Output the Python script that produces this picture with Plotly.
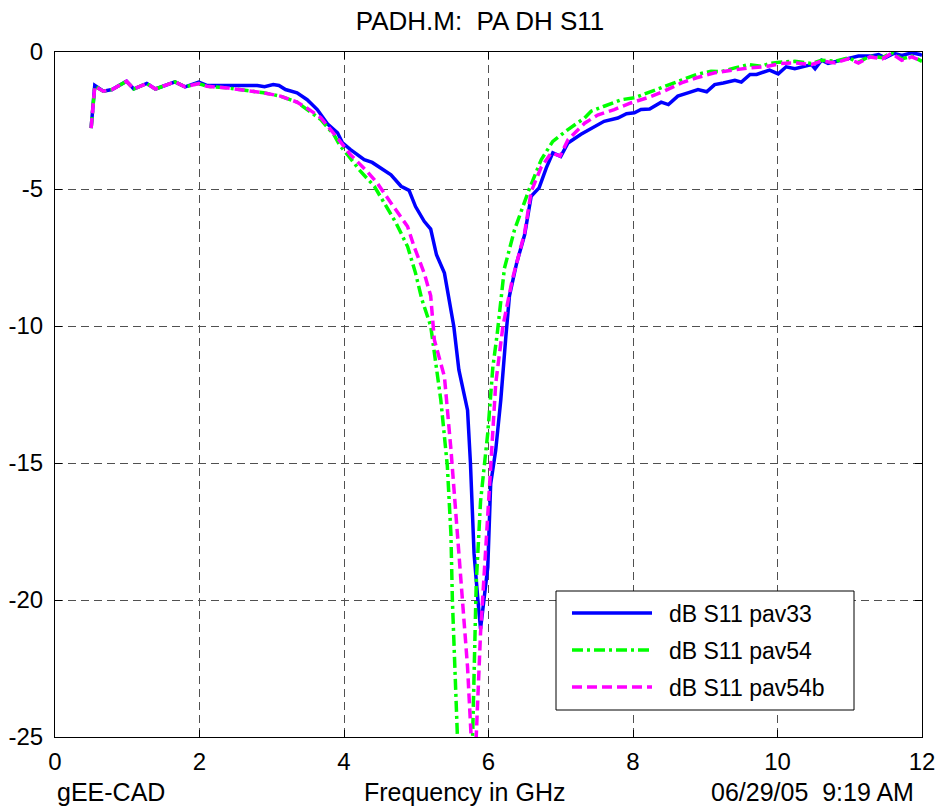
import plotly.graph_objects as go

# ---------------- data ----------------
freq_pav33 = [0.5, 0.55, 0.67, 0.79, 0.99, 1.09, 1.27, 1.39, 1.66, 1.80, 1.99, 2.1, 2.5, 2.8, 2.9,
              3.02, 3.1, 3.19, 3.35, 3.49, 3.63, 3.77, 3.91, 3.98, 4.09, 4.28, 4.39, 4.51, 4.65,
              4.79, 4.90, 4.99, 5.11, 5.20, 5.28, 5.39, 5.45, 5.52, 5.59, 5.71, 5.75, 5.80, 5.85,
              5.89, 5.99, 6.03, 6.10, 6.17, 6.24, 6.29, 6.39, 6.50, 6.59, 6.70, 6.80, 6.89, 7.00,
              7.10, 7.28, 7.42, 7.60, 7.79, 7.91, 8.02, 8.11, 8.23, 8.39, 8.49, 8.62, 8.76, 8.90,
              9.02, 9.13, 9.25, 9.41, 9.50, 9.62, 9.71, 9.89, 10.01, 10.12, 10.24, 10.35, 10.47,
              10.52, 10.61, 10.70, 10.82, 10.98, 11.12, 11.28, 11.40, 11.49, 11.61, 11.72, 11.86,
              11.97, 12.0]
s11_pav33 = [-2.78, -1.22, -1.43, -1.37, -1.07, -1.35, -1.15, -1.35, -1.09, -1.27, -1.10, -1.22,
             -1.22, -1.22, -1.27, -1.19, -1.22, -1.37, -1.49, -1.74, -2.10, -2.62, -2.95, -3.32,
             -3.56, -3.93, -4.03, -4.23, -4.48, -4.90, -5.05, -5.64, -6.18, -6.46, -7.40, -8.07,
             -8.98, -10.02, -11.6, -13.07, -15.0, -18.3, -19.9, -21.05, -18.8, -15.77, -14.53,
             -12.7, -10.4, -8.9, -7.7, -6.67, -5.27, -4.96, -4.23, -3.68, -3.81, -3.32, -3.00,
             -2.81, -2.53, -2.41, -2.25, -2.22, -2.10, -2.08, -1.83, -1.92, -1.61, -1.49, -1.37,
             -1.45, -1.19, -1.13, -1.03, -1.10, -0.82, -0.82, -0.66, -0.80, -0.54, -0.61, -0.54,
             -0.46, -0.61, -0.30, -0.42, -0.34, -0.25, -0.15, -0.15, -0.09, -0.21, -0.05, -0.13,
             -0.03, -0.09, -0.12]

freq_pav54 = [0.5, 0.55, 0.67, 0.79, 0.99, 1.09, 1.27, 1.39, 1.66, 1.80, 1.99, 2.1, 2.38, 2.66,
              2.89, 3.12, 3.35, 3.49, 3.68, 3.86, 3.95, 4.05, 4.23, 4.42, 4.58, 4.72, 4.88, 4.99,
              5.08, 5.20, 5.34, 5.43, 5.48, 5.50, 5.57, 5.68, 5.78, 5.83, 5.89, 5.99, 6.06, 6.12,
              6.22, 6.36, 6.56, 6.73, 6.89, 7.10, 7.33, 7.42, 7.60, 7.84, 8.02, 8.20, 8.43, 8.67,
              8.88, 9.08, 9.21, 9.41, 9.60, 9.78, 9.89, 10.03, 10.24, 10.47, 10.61, 10.80, 10.98,
              11.12, 11.28, 11.45, 11.58, 11.72, 11.86, 12.0]
s11_pav54 = [-2.78, -1.25, -1.43, -1.37, -1.07, -1.35, -1.15, -1.35, -1.09, -1.27, -1.15, -1.25,
             -1.31, -1.40, -1.49, -1.61, -1.83, -2.10, -2.47, -3.02, -3.44, -3.75, -4.36, -4.90,
             -5.64, -6.24, -7.10, -8.07, -9.05, -10.0, -12.7, -15.1, -17.6, -20.0, -25.0, -29.0,
             -25.0, -19.4, -16.4, -13.9, -11.5, -10.3, -7.9, -6.49, -5.03, -3.93, -3.26, -2.83,
             -2.41, -2.16, -1.98, -1.74, -1.67, -1.49, -1.25, -1.01, -0.82, -0.70, -0.72, -0.58,
             -0.46, -0.52, -0.42, -0.37, -0.34, -0.42, -0.30, -0.34, -0.21, -0.38, -0.15, -0.21,
             -0.02, -0.25, -0.15, -0.34]

freq_pav54b = [0.5, 0.55, 0.67, 0.79, 0.99, 1.09, 1.27, 1.39, 1.66, 1.80, 1.99, 2.1, 2.38, 2.66,
               2.89, 3.12, 3.35, 3.49, 3.68, 3.91, 4.09, 4.32, 4.46, 4.65, 4.88, 4.97, 5.11, 5.20,
               5.25, 5.39, 5.48, 5.57, 5.64, 5.71, 5.76, 5.80, 5.83, 5.89, 5.96, 6.03, 6.10, 6.20,
               6.33, 6.50, 6.59, 6.73, 6.87, 6.99, 7.10, 7.33, 7.51, 7.74, 7.97, 8.20, 8.43, 8.67,
               8.88, 9.13, 9.36, 9.60, 9.82, 10.05, 10.24, 10.47, 10.61, 10.80, 10.98, 11.12,
               11.28, 11.45, 11.58, 11.72, 11.86, 12.0]
s11_pav54b = [-2.78, -1.25, -1.43, -1.37, -1.07, -1.35, -1.15, -1.35, -1.09, -1.27, -1.15, -1.25,
              -1.31, -1.40, -1.49, -1.61, -1.83, -2.05, -2.40, -3.14, -3.75, -4.36, -4.78, -5.51,
              -6.37, -7.10, -8.07, -8.90, -10.5, -11.85, -14.5, -17.6, -20.0, -22.45, -25.0,
              -27.0, -25.0, -21.2, -18.2, -15.1, -12.1, -10.0, -8.3, -6.6, -5.1, -4.2, -3.68,
              -3.80, -3.20, -2.60, -2.30, -2.10, -1.86, -1.67, -1.43, -1.13, -0.94, -0.76, -0.66,
              -0.58, -0.54, -0.42, -0.40, -0.46, -0.33, -0.40, -0.25, -0.40, -0.18, -0.25, -0.05,
              -0.30, -0.18, -0.34]

series_names = ["dB S11 pav33", "dB S11 pav54", "dB S11 pav54b"]
x_ticks = [0, 2, 4, 6, 8, 10, 12]
x_tick_labels = ["0", "2", "4", "6", "8", "10", "12"]
y_ticks = [0, -5, -10, -15, -20, -25]
y_tick_labels = ["0", "-5", "-10", "-15", "-20", "-25"]

title_text = "PADH.M:  PA DH S11"
left_note = "gEE-CAD"
x_label = "Frequency in GHz"
right_note = "06/29/05  9:19 AM"

# ---------------- styling ----------------
W, H = 939, 811
ML, MR, MT, MB = 55, 17, 52, 74
PW, PH = W - ML - MR, H - MT - MB
FONT = "Arial, Liberation Sans, Helvetica, sans-serif"

colors = ["#0000FF", "#00FF00", "#FF00FF"]
dashes = ["solid", "11px,4px,3px,4px", "10px,5px"]


def px(xp):
    return (xp - ML) / PW


def py(yp):
    return (H - MB - yp) / PH


fig = go.Figure()
for f, s, name, c, d in zip([freq_pav33, freq_pav54, freq_pav54b],
                            [s11_pav33, s11_pav54, s11_pav54b],
                            series_names, colors, dashes):
    fig.add_trace(go.Scatter(x=f, y=s, mode="lines", name=name,
                             line=dict(color=c, width=3.5, dash=d), showlegend=False))

axis_common = dict(showline=True, linecolor="black", linewidth=1, mirror="ticks",
                   ticks="inside", ticklen=7, tickcolor="black", automargin=False,
                   showgrid=True, gridcolor="#505050", gridwidth=1, griddash="8px,5px",
                   zeroline=False, tickfont=dict(family=FONT, size=24, color="black"))

fig.update_xaxes(range=[0, 12], tickvals=x_ticks, ticktext=x_tick_labels,
                 ticklabelstandoff=3, **axis_common)
fig.update_yaxes(range=[-25, 0], tickvals=y_ticks, ticktext=y_tick_labels,
                 ticklabelstandoff=6, **axis_common)

# custom legend box (MATLAB style)
shapes = [dict(type="rect", xref="paper", yref="paper",
               x0=px(556), x1=px(854), y0=py(710), y1=py(591),
               line=dict(color="black", width=1), fillcolor="white", layer="above")]
annotations = []
row_y = [613, 650, 687]
for name, c, d, ry in zip(series_names, colors, dashes, row_y):
    shapes.append(dict(type="line", xref="paper", yref="paper",
                       x0=px(572), x1=px(652), y0=py(ry), y1=py(ry),
                       line=dict(color=c, width=3.5, dash=d), layer="above"))
    annotations.append(dict(text=name, xref="paper", yref="paper", x=px(667), y=py(ry + 1),
                            xanchor="left", yanchor="middle", showarrow=False,
                            font=dict(family=FONT, size=23, color="black")))

annotations += [
    dict(text=left_note, xref="paper", yref="paper", x=px(55), y=py(792),
         xanchor="left", yanchor="middle", showarrow=False,
         font=dict(family=FONT, size=25, color="black")),
    dict(text=x_label, xref="paper", yref="paper", x=px(464), y=py(792),
         xanchor="center", yanchor="middle", showarrow=False,
         font=dict(family=FONT, size=25, color="black")),
    dict(text=right_note, xref="paper", yref="paper", x=px(916), y=py(792),
         xanchor="right", yanchor="middle", showarrow=False,
         font=dict(family=FONT, size=25, color="black")),
]

fig.update_layout(
    width=W, height=H, autosize=False,
    margin=dict(l=ML, r=MR, t=MT, b=MB),
    paper_bgcolor="white", plot_bgcolor="white",
    title=dict(text=title_text, x=480 / W, xanchor="center", y=1 - 21 / H, yanchor="middle",
               font=dict(family=FONT, size=26, color="black")),
    shapes=shapes, annotations=annotations, showlegend=False,
)

fig.write_html("out.html")
